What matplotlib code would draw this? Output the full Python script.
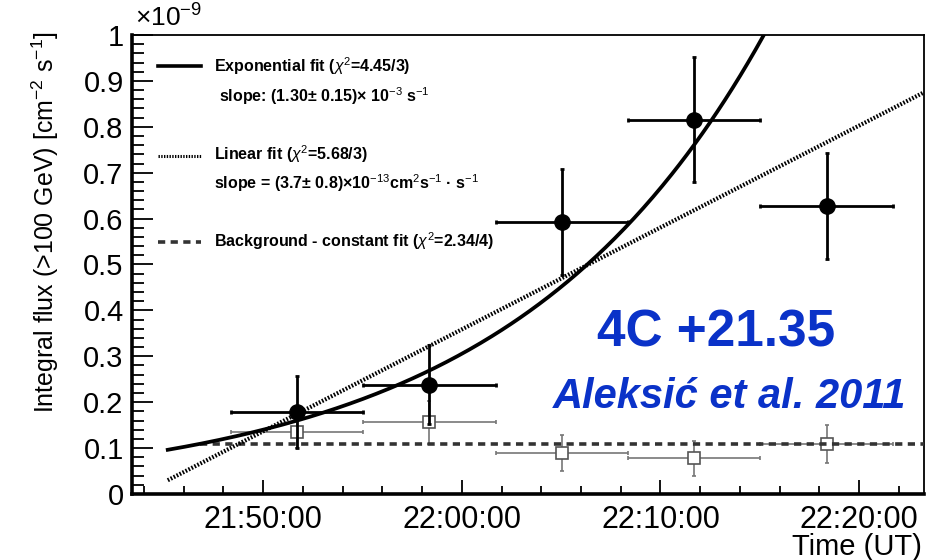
import numpy as np
import matplotlib
matplotlib.use("Agg")
import matplotlib.pyplot as plt
from matplotlib.lines import Line2D
from matplotlib.ticker import MultipleLocator, FuncFormatter

plt.rcParams['font.family'] = ['Liberation Sans', 'DejaVu Sans']
plt.rcParams['mathtext.fontset'] = 'custom'
plt.rcParams['mathtext.rm'] = 'Liberation Sans'
plt.rcParams['mathtext.it'] = 'Liberation Sans:italic'

# light curve, flux in units of 1e-9 cm^-2 s^-1
bin_centers = ["21:51:42", "21:58:22", "22:05:02", "22:11:42", "22:18:22"]
bin_halfwidth = 200  # s
flux = [0.178, 0.238, 0.593, 0.815, 0.628]
flux_err = [0.078, 0.086, 0.116, 0.136, 0.115]
bkg = [0.136, 0.156, 0.090, 0.078, 0.109]
bkg_err = [0.036, 0.047, 0.039, 0.038, 0.041]

# fit results
fit_start = "21:45:12"
bkg_fit_start = "21:46:50"
exp_norm = 0.0963      # value at fit_start
exp_slope = 1.30e-3    # s^-1
lin_norm = 0.030       # value at fit_start
lin_slope = 3.7e-13 / 1e-9   # per s, in 1e-9 units
bkg_const = 0.109


def to_sec(s):
    h, m, sec = [int(v) for v in s.split(":")]
    return h * 3600 + m * 60 + sec


def fmt_time(v, pos):
    v = int(round(v))
    return "%02d:%02d:%02d" % (v // 3600, (v % 3600) // 60, v % 60)


t = np.array([to_sec(s) for s in bin_centers])
t0 = to_sec(fit_start)
x_lo, x_hi = to_sec("21:43:24"), to_sec("22:23:16")

W, H = 926, 560
fig = plt.figure(figsize=(W / 100, H / 100), dpi=100)
ax = fig.add_axes([132 / W, 1 - 494 / H, (924 - 132) / W, (494 - 35) / H])

# background points
ax.errorbar(t, bkg, xerr=bin_halfwidth, yerr=bkg_err, fmt='s', ms=8,
            mfc='white', mec='#555555', mew=1.2, ecolor='#777777',
            elinewidth=1.2, capsize=1.5, capthick=1.2, zorder=2)

# fits
tt = np.linspace(t0, x_hi, 400)
ax.plot(tt, exp_norm * np.exp(exp_slope * (tt - t0)), color='black', lw=2.7, zorder=4)
ax.plot(tt, lin_norm + lin_slope * (tt - t0), color='black', lw=3.0,
        linestyle=(0, (0.4, 0.4)), zorder=4)
ax.plot([to_sec(bkg_fit_start), x_hi], [bkg_const, bkg_const], color='#333333',
        lw=2.6, linestyle=(0, (2.0, 1.5)), zorder=3)

# source points
ax.errorbar(t, flux, xerr=bin_halfwidth, yerr=flux_err, fmt='o', ms=11,
            color='black', elinewidth=2, capsize=1.5, capthick=2, zorder=5)

ax.set_xlim(x_lo, x_hi)
ax.set_ylim(0, 1)
ax.xaxis.set_major_locator(MultipleLocator(600))
ax.xaxis.set_minor_locator(MultipleLocator(120))
ax.xaxis.set_major_formatter(FuncFormatter(fmt_time))
ax.yaxis.set_major_locator(MultipleLocator(0.1))
ax.yaxis.set_minor_locator(MultipleLocator(0.02))
ax.yaxis.set_major_formatter(FuncFormatter(lambda v, p: "0" if v == 0 else ("1" if abs(v - 1) < 1e-9 else "%.1f" % v)))

ax.tick_params(axis='both', which='both', direction='in', top=False, right=False, width=1.3)
ax.tick_params(axis='y', which='major', length=15, labelsize=21, pad=6)
ax.tick_params(axis='y', which='minor', length=8.5)
ax.tick_params(axis='x', which='major', length=10, labelsize=22, pad=8)
ax.tick_params(axis='x', which='minor', length=5.5)
for side in ['left', 'bottom']:
    ax.spines[side].set_linewidth(2.6)
for side in ['top', 'right']:
    ax.spines[side].set_linewidth(1.3)

fig.text(135 / W, 1 - 27 / H, "×10$^{-9}$", fontsize=19, ha='left', va='baseline')
fig.text(45 / W, 1 - 222 / H, "Integral flux (>100 GeV) [cm$^{-2}$ s$^{-1}$]",
         fontsize=18, rotation=90, ha='center', va='center')
fig.text(922 / W, 1 - 555 / H, "Time (UT)", fontsize=21, ha='right', va='baseline')

# legend drawn as free text
leg_kw = dict(fontsize=11.5, fontweight='bold', ha='left', va='baseline')
fig.text(214 / W, 1 - 72 / H, "Exponential fit ($\\chi^2$=4.45/3)", **leg_kw)
fig.text(219 / W, 1 - 102 / H, "slope: (1.30± 0.15)× 10$^{-3}$ s$^{-1}$", **leg_kw)
fig.text(214 / W, 1 - 160 / H, "Linear fit ($\\chi^2$=5.68/3)", **leg_kw)
fig.text(214 / W, 1 - 189 / H, "slope = (3.7± 0.8)×10$^{-13}$cm$^{2}$s$^{-1}$ · s$^{-1}$", **leg_kw)
fig.text(214 / W, 1 - 247 / H, "Background - constant fit ($\\chi^2$=2.34/4)", **leg_kw)

sample_x = [158 / W, 201 / W]
fig.add_artist(Line2D(sample_x, [1 - 66 / H] * 2, color='black', lw=2.6, transform=fig.transFigure))
fig.add_artist(Line2D(sample_x, [1 - 156 / H] * 2, color='black', lw=2.2,
                      linestyle=(0, (0.45, 0.45)), transform=fig.transFigure))
fig.add_artist(Line2D(sample_x, [1 - 242 / H] * 2, color='#333333', lw=2.6,
                      linestyle=(0, (2.0, 1.5)), transform=fig.transFigure))

fig.text(716 / W, 1 - 333 / H, "4C +21.35", fontsize=37, fontweight='bold',
         color='#0a32c8', ha='center', va='center')
fig.text(730 / W, 1 - 397 / H, "Aleksić et al. 2011", fontsize=30, fontweight='bold',
         fontstyle='italic', color='#0a32c8', ha='center', va='center')

fig.savefig("out.png", dpi=100)
